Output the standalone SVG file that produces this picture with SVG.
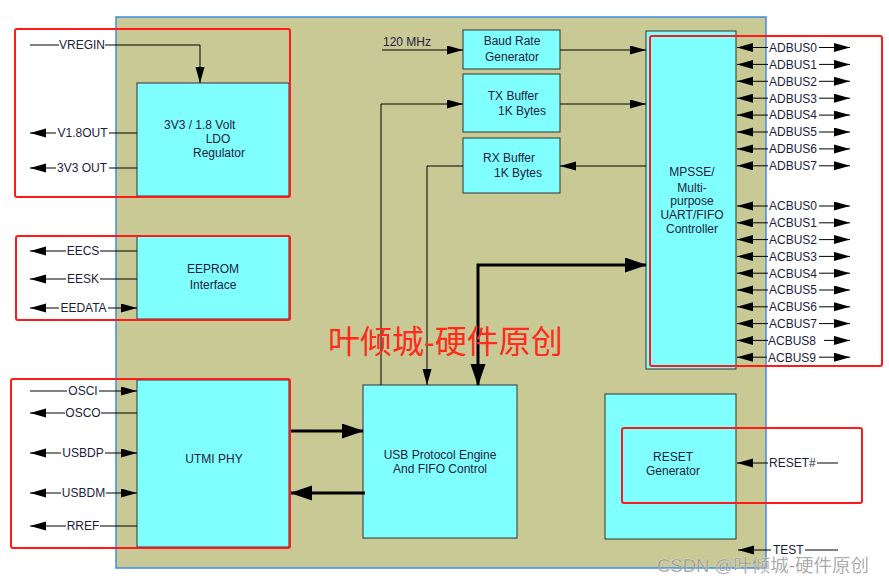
<svg xmlns="http://www.w3.org/2000/svg" width="889" height="582" viewBox="0 0 889 582">
<defs>
<style>
.node{fill:#80ffff;stroke:#333;stroke-width:1}
.nt{font-family:"Liberation Sans",Arial,sans-serif;font-size:12px;fill:#1c1c3c;text-anchor:middle}
.lb{font-family:"Liberation Sans",Arial,sans-serif;font-size:12px;fill:#1c1c3c}
.ln{stroke:#000;stroke-width:1;fill:none}
.thick{stroke:#000;stroke-width:3;fill:none}
.red{fill:none;stroke:#ff1a1a;stroke-width:2}
</style>
<marker id="as" markerWidth="16" markerHeight="10" refX="16" refY="4.5" orient="auto-start-reverse" markerUnits="userSpaceOnUse"><path d="M0,0 L16,4.5 L0,9 z" fill="#000"/></marker>
<marker id="al" markerWidth="22" markerHeight="16" refX="21" refY="7.5" orient="auto-start-reverse" markerUnits="userSpaceOnUse"><path d="M0,0 L22,7.5 L0,15 z" fill="#000"/></marker>
</defs>
<rect width="889" height="582" fill="#fff"/>
<rect id="chip" x="116" y="17" width="650" height="551" fill="#c9c996" stroke="#3a8ee6" stroke-width="1.5"/>

<g id="ldo"><rect class="node" x="137" y="83" width="152" height="113"/>
<text class="lb" x="164" y="129" font-size="12">3V3  / 1.8 Volt</text>
<text class="nt" x="218" y="143">LDO</text>
<text class="nt" x="219" y="157">Regulator</text></g>

<g id="eeprom"><rect class="node" x="137" y="236" width="152" height="83"/>
<text class="nt" x="213" y="273">EEPROM</text>
<text class="nt" x="213" y="289">Interface</text></g>

<g id="utmi"><rect class="node" x="137" y="380" width="152" height="167"/>
<text class="nt" x="214" y="463">UTMI PHY</text></g>

<g id="usb"><rect class="node" x="363" y="385" width="154" height="153"/>
<text class="nt" x="440" y="459" font-size="11.5">USB Protocol Engine</text>
<text class="nt" x="440" y="473" font-size="11.5">And FIFO Control</text></g>

<g id="baud"><rect class="node" x="463" y="30" width="97" height="39"/>
<text class="nt" x="512" y="45">Baud Rate</text>
<text class="nt" x="512" y="61">Generator</text></g>

<g id="txbuf"><rect class="node" x="463" y="74" width="97" height="58"/>
<text class="nt" x="513" y="100">TX Buffer</text>
<text class="nt" x="522" y="115">1K Bytes</text></g>

<g id="rxbuf"><rect class="node" x="463" y="138" width="97" height="55"/>
<text class="nt" x="509" y="162">RX Buffer</text>
<text class="nt" x="518" y="177">1K Bytes</text></g>

<g id="mpsse"><rect class="node" x="646" y="31" width="90" height="338"/>
<text class="nt" x="692" y="176">MPSSE/</text>
<text class="nt" x="692" y="192">Multi-</text>
<text class="nt" x="692" y="205">purpose</text>
<text class="nt" x="692" y="219">UART/FIFO</text>
<text class="nt" x="692" y="233">Controller</text></g>

<g id="reset"><rect class="node" x="605" y="394" width="131" height="145"/>
<text class="nt" x="673" y="461">RESET</text>
<text class="nt" x="673" y="475">Generator</text></g>

<g id="connectors">
<line class="ln" x1="30" y1="45" x2="59" y2="45"/>
<text class="lb" x="82" y="49.3" text-anchor="middle">VREGIN</text>
<polyline class="ln" points="105,45 200,45 200,83" marker-end="url(#as)"/>
<line class="ln" x1="56" y1="133" x2="30" y2="133" marker-end="url(#as)"/>
<text class="lb" x="82.5" y="137.3" text-anchor="middle">V1.8OUT</text>
<line class="ln" x1="109" y1="133" x2="137" y2="133"/>
<line class="ln" x1="56" y1="168" x2="30" y2="168" marker-end="url(#as)"/>
<text class="lb" x="82" y="172.3" text-anchor="middle">3V3 OUT</text>
<line class="ln" x1="109" y1="168" x2="137" y2="168"/>
<line class="ln" x1="66" y1="251" x2="30" y2="251" marker-end="url(#as)"/>
<text class="lb" x="83" y="255.3" text-anchor="middle">EECS</text>
<line class="ln" x1="100" y1="251" x2="137" y2="251"/>
<line class="ln" x1="66" y1="279" x2="30" y2="279" marker-end="url(#as)"/>
<text class="lb" x="83" y="283.3" text-anchor="middle">EESK</text>
<line class="ln" x1="100" y1="279" x2="137" y2="279"/>
<line class="ln" x1="59" y1="308" x2="30" y2="308" marker-end="url(#as)"/>
<text class="lb" x="83.5" y="312.3" text-anchor="middle">EEDATA</text>
<line class="ln" x1="108" y1="308" x2="137" y2="308" marker-end="url(#as)"/>
<line class="ln" x1="30" y1="391" x2="67" y2="391"/>
<text class="lb" x="83" y="395.3" text-anchor="middle">OSCI</text>
<line class="ln" x1="99" y1="391" x2="137" y2="391" marker-end="url(#as)"/>
<line class="ln" x1="65" y1="413" x2="30" y2="413" marker-end="url(#as)"/>
<text class="lb" x="83" y="417.3" text-anchor="middle">OSCO</text>
<line class="ln" x1="101" y1="413" x2="137" y2="413"/>
<line class="ln" x1="61" y1="453" x2="30" y2="453" marker-end="url(#as)"/>
<text class="lb" x="83" y="457.3" text-anchor="middle">USBDP</text>
<line class="ln" x1="105" y1="453" x2="137" y2="453" marker-end="url(#as)"/>
<line class="ln" x1="61" y1="493" x2="30" y2="493" marker-end="url(#as)"/>
<text class="lb" x="83.5" y="497.3" text-anchor="middle">USBDM</text>
<line class="ln" x1="106" y1="493" x2="137" y2="493" marker-end="url(#as)"/>
<line class="ln" x1="66" y1="526" x2="30" y2="526" marker-end="url(#as)"/>
<text class="lb" x="83" y="530.3" text-anchor="middle">RREF</text>
<line class="ln" x1="100" y1="526" x2="137" y2="526"/>
<line class="thick" x1="290" y1="431" x2="363" y2="431" marker-end="url(#al)"/>
<line class="thick" x1="365" y1="493" x2="291" y2="493" marker-end="url(#al)"/>
<text class="lb" x="383" y="46">120 MHz</text>
<line class="ln" x1="382" y1="50" x2="463" y2="50" marker-end="url(#as)"/>
<line class="ln" x1="560" y1="50" x2="646" y2="50" marker-end="url(#as)"/>
<line class="ln" x1="560" y1="104" x2="646" y2="104" marker-end="url(#as)"/>
<line class="ln" x1="646" y1="166" x2="560" y2="166" marker-end="url(#as)"/>
<polyline class="ln" points="381,385 381,104 463,104" marker-end="url(#as)"/>
<polyline class="ln" points="463,166 427,166 427,385" marker-end="url(#as)"/>
<polyline class="thick" points="478,385 478,265 646,265" marker-start="url(#al)" marker-end="url(#al)"/>
<line class="ln" x1="768" y1="47.5" x2="737" y2="47.5" marker-end="url(#as)"/><text class="lb" x="769" y="51.8">ADBUS0</text><line class="ln" x1="819" y1="47.5" x2="850" y2="47.5" marker-end="url(#as)"/>
<line class="ln" x1="768" y1="64.4" x2="737" y2="64.4" marker-end="url(#as)"/><text class="lb" x="769" y="68.7">ADBUS1</text><line class="ln" x1="819" y1="64.4" x2="850" y2="64.4" marker-end="url(#as)"/>
<line class="ln" x1="768" y1="81.3" x2="737" y2="81.3" marker-end="url(#as)"/><text class="lb" x="769" y="85.6">ADBUS2</text><line class="ln" x1="819" y1="81.3" x2="850" y2="81.3" marker-end="url(#as)"/>
<line class="ln" x1="768" y1="98.2" x2="737" y2="98.2" marker-end="url(#as)"/><text class="lb" x="769" y="102.5">ADBUS3</text><line class="ln" x1="819" y1="98.2" x2="850" y2="98.2" marker-end="url(#as)"/>
<line class="ln" x1="768" y1="115.1" x2="737" y2="115.1" marker-end="url(#as)"/><text class="lb" x="769" y="119.4">ADBUS4</text><line class="ln" x1="819" y1="115.1" x2="850" y2="115.1" marker-end="url(#as)"/>
<line class="ln" x1="768" y1="132" x2="737" y2="132" marker-end="url(#as)"/><text class="lb" x="769" y="136.3">ADBUS5</text><line class="ln" x1="819" y1="132" x2="850" y2="132" marker-end="url(#as)"/>
<line class="ln" x1="768" y1="148.9" x2="737" y2="148.9" marker-end="url(#as)"/><text class="lb" x="769" y="153.2">ADBUS6</text><line class="ln" x1="819" y1="148.9" x2="850" y2="148.9" marker-end="url(#as)"/>
<line class="ln" x1="768" y1="165.8" x2="737" y2="165.8" marker-end="url(#as)"/><text class="lb" x="769" y="170.1">ADBUS7</text><line class="ln" x1="819" y1="165.8" x2="850" y2="165.8" marker-end="url(#as)"/>
<line class="ln" x1="768" y1="206" x2="737" y2="206" marker-end="url(#as)"/><text class="lb" x="769" y="210.3">ACBUS0</text><line class="ln" x1="819" y1="206" x2="850" y2="206" marker-end="url(#as)"/>
<line class="ln" x1="768" y1="222.8" x2="737" y2="222.8" marker-end="url(#as)"/><text class="lb" x="769" y="227.1">ACBUS1</text><line class="ln" x1="819" y1="222.8" x2="850" y2="222.8" marker-end="url(#as)"/>
<line class="ln" x1="768" y1="239.6" x2="737" y2="239.6" marker-end="url(#as)"/><text class="lb" x="769" y="243.9">ACBUS2</text><line class="ln" x1="819" y1="239.6" x2="850" y2="239.6" marker-end="url(#as)"/>
<line class="ln" x1="768" y1="256.4" x2="737" y2="256.4" marker-end="url(#as)"/><text class="lb" x="769" y="260.7">ACBUS3</text><line class="ln" x1="819" y1="256.4" x2="850" y2="256.4" marker-end="url(#as)"/>
<line class="ln" x1="768" y1="273.2" x2="737" y2="273.2" marker-end="url(#as)"/><text class="lb" x="769" y="277.5">ACBUS4</text><line class="ln" x1="819" y1="273.2" x2="850" y2="273.2" marker-end="url(#as)"/>
<line class="ln" x1="768" y1="290" x2="737" y2="290" marker-end="url(#as)"/><text class="lb" x="769" y="294.3">ACBUS5</text><line class="ln" x1="819" y1="290" x2="850" y2="290" marker-end="url(#as)"/>
<line class="ln" x1="768" y1="306.8" x2="737" y2="306.8" marker-end="url(#as)"/><text class="lb" x="769" y="311.1">ACBUS6</text><line class="ln" x1="819" y1="306.8" x2="850" y2="306.8" marker-end="url(#as)"/>
<line class="ln" x1="768" y1="323.6" x2="737" y2="323.6" marker-end="url(#as)"/><text class="lb" x="769" y="327.9">ACBUS7</text><line class="ln" x1="819" y1="323.6" x2="850" y2="323.6" marker-end="url(#as)"/>
<line class="ln" x1="768" y1="340.4" x2="737" y2="340.4" marker-end="url(#as)"/><text class="lb" x="768" y="344.7">ACBUS8</text><line class="ln" x1="824" y1="340.4" x2="850" y2="340.4" marker-end="url(#as)"/>
<line class="ln" x1="767" y1="357.2" x2="737" y2="357.2" marker-end="url(#as)"/><text class="lb" x="768" y="361.5">ACBUS9</text><line class="ln" x1="819" y1="357.2" x2="850" y2="357.2" marker-end="url(#as)"/>
<line class="ln" x1="768" y1="463" x2="737" y2="463" marker-end="url(#as)"/>
<text class="lb" x="769" y="467.3">RESET#</text>
<line class="ln" x1="817" y1="463" x2="838" y2="463"/>
<line class="ln" x1="771" y1="550" x2="738" y2="550" marker-end="url(#as)"/>
<text class="lb" x="773" y="553.5">TEST</text>
<line class="ln" x1="805" y1="550" x2="838" y2="550"/>
</g>

<g id="highlights">
<rect class="red" x="15" y="29" width="275" height="168" rx="2"/>
<rect class="red" x="16" y="236" width="274" height="84" rx="2"/>
<rect class="red" x="11" y="379" width="279" height="169" rx="2"/>
<rect class="red" x="650" y="36" width="232" height="330" rx="2"/>
<rect class="red" x="622" y="428" width="240" height="75" rx="2"/>
</g>
<text x="328" y="353" font-family="'Liberation Sans','Noto Sans CJK SC',sans-serif" font-size="32" fill="#ff2a1a">叶倾城-硬件原创</text>
<text x="657" y="572" font-family="'Liberation Sans','Noto Sans CJK SC',sans-serif" font-size="18.5" fill="#8c8c8c" fill-opacity="0.9" stroke="#fff" stroke-width="0.4" stroke-opacity="0.6">CSDN @叶倾城-硬件原创</text>
</svg>
